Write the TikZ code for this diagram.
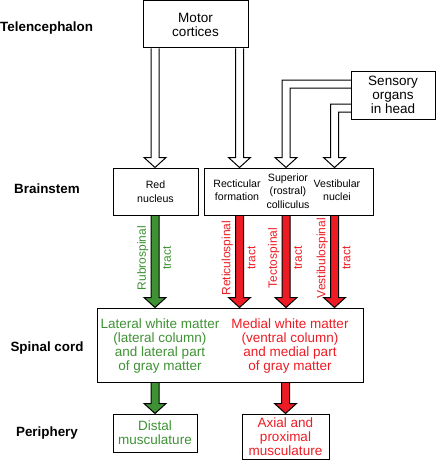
\documentclass[tikz,border=0pt]{standalone}
\usepackage{fontspec}
\setmainfont{Liberation Sans}
\usetikzlibrary{calc,positioning,backgrounds}
\definecolor{tgreen}{RGB}{62,146,52}
\definecolor{tred}{RGB}{237,28,36}
\tikzset{
  box/.style={draw,line width=1pt,inner sep=0pt,align=center,font=\fontsize{13.5}{14}\selectfont},
  small/.style={align=center,inner sep=0pt,font=\fontsize{10.6}{13.5}\selectfont},
  level/.style={inner sep=0pt,font=\fontsize{13.4}{14}\selectfont\bfseries},
  tract/.style={rotate=90,inner sep=0pt,font=\fontsize{12}{12}\selectfont},
  fat/.style={line width=1pt,draw=black,line join=miter}
}
% straight fat arrow from #2 down to #3, filled with #1
\newcommand\fatarrow[3]{%
  \filldraw[fat,fill=#1] let \p1=(#2), \p2=(#3) in
    (\x1-4pt,\y1) -- (\x1-4pt,\y2+10pt) -- (\x1-11pt,\y2+10pt) -- (\x1,\y2)
    -- (\x1+11pt,\y2+10pt) -- (\x1+4pt,\y2+10pt) -- (\x1+4pt,\y1);}
% hollow arrow leaving a box to the left at #1, then down to #2
\newcommand\bentarrow[2]{%
  \filldraw[fat,fill=white] let \p1=(#1), \p2=(#2) in
    (\x1,\y1+4pt) -- (\x2-4pt,\y1+4pt) -- (\x2-4pt,\y2+10pt) -- (\x2-11pt,\y2+10pt) -- (\x2,\y2)
    -- (\x2+11pt,\y2+10pt) -- (\x2+4pt,\y2+10pt) -- (\x2+4pt,\y1-4pt) -- (\x1,\y1-4pt);}

\begin{document}
\begin{tikzpicture}[x=1pt,y=-1pt]
\useasboundingbox (0,0) rectangle (436,460);

% levels
\node[level,anchor=west] (tele) at (0,28) {Telencephalon};
\node[level] (brain) at (47,189) {Brainstem};
\node[level] (spin) at (47,348) {Spinal cord};
\node[level] (peri) at (47,433) {Periphery};

% boxes
\node[box,minimum width=105pt,minimum height=47pt] (mc) at (195.5,24.5) {Motor\\cortices};
\node[box,minimum width=84pt,minimum height=48pt] (so) at (393,95) {Sensory\\organs\\in head};
\node[box,small,minimum width=85pt,minimum height=47pt] (rn) at (155.5,191.5) {Red\\nucleus};
\node[box,minimum width=169pt,minimum height=47pt] (bs) at (288.5,191.5) {};
\node[small] (rf) at (237,190) {Recticular\\formation};
\node[small] (col) at (288,191) {Superior\\(rostral)\\colliculus};
\node[small] (vn) at (337,190) {Vestibular\\nuclei};
\node[box,minimum width=266pt,minimum height=74pt] (sc) at (230,345) {};
\node[box,draw=none,text=tgreen] (lat) at (160,346) {Lateral white matter\\(lateral column)\\and lateral part\\of gray matter};
\node[box,draw=none,text=tred] (med) at (290,346) {Medial white matter\\(ventral column)\\and medial part\\of gray matter};
\node[box,text=tgreen,minimum width=84pt,minimum height=38pt] (dm) at (155,433) {Distal\\musculature};
\node[box,text=tred,minimum width=87pt,minimum height=45pt] (ax) at (285.5,436.5) {Axial and\\proximal\\musculature};

% tract columns
\coordinate (c1) at (155,258);
\coordinate (c2) at (239.5,258);
\coordinate (c3) at (286,258);
\coordinate (c4) at (334.5,258);
\coordinate (s3) at (351,84);
\coordinate (s4) at (351,108);

\begin{scope}[on background layer]
  \fatarrow{white}{c1 |- mc.south}{c1 |- rn.north}
  \fatarrow{white}{c2 |- mc.south}{c2 |- bs.north}
  \bentarrow{s3}{c3 |- bs.north}
  \bentarrow{s4}{c4 |- bs.north}
  \foreach \col [count=\k] in {tgreen,tred,tred,tred} {
    \fatarrow{\col}{c\k |- bs.south}{c\k |- sc.north}
  }
  \fatarrow{tgreen}{c1 |- sc.south}{c1 |- dm.north}
  \fatarrow{tred}{ax.north |- sc.south}{ax.north}
\end{scope}

\foreach \nm/\col [count=\k] in {Rubrospinal/tgreen,Reticulospinal/tred,Tectospinal/tred,Vestibulospinal/tred} {
  \node[tract,text=\col,anchor=south] (L\k) at ([xshift=-6.5pt]c\k) {\nm};
  \node[tract,text=\col,anchor=north] (T\k) at ([xshift=8pt]c\k) {tract};
}
\end{tikzpicture}
\end{document}
